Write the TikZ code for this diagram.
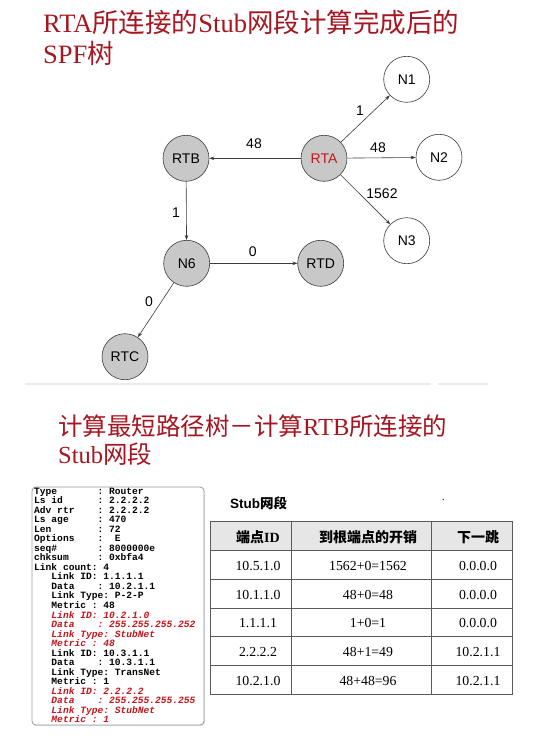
\documentclass[tikz,border=0pt]{standalone}
\usepackage{fontspec}
\setmainfont{Liberation Serif}
\setsansfont{Liberation Sans}
\setmonofont{Liberation Mono}
\newfontfamily\cjk{Noto Sans CJK SC}
\usetikzlibrary{arrows.meta,shadows}
\definecolor{titred}{RGB}{165,22,32}
\definecolor{codered}{RGB}{196,22,28}
\definecolor{nodegray}{RGB}{200,200,200}
\definecolor{edgegray}{RGB}{60,60,60}
\definecolor{hdrgray}{RGB}{230,230,230}
\definecolor{gridgray}{RGB}{90,90,90}
\newcommand\codeline[3]{\node[codetext,#2] (c#1) at (34,{494+(#1-1)*9.54}) {#3};}
\begin{document}
\begin{tikzpicture}[x=1pt,y=-1pt,
  net/.style={circle, draw=edgegray, line width=0.6pt, minimum size=46pt, inner sep=0pt,
    font=\sffamily\fontsize{14}{14}\selectfont},
  gnode/.style={net, fill=nodegray},
  wnode/.style={net, fill=white},
  arr/.style={-{Stealth[length=5pt,width=3.6pt]}, draw=edgegray, line width=0.6pt},
  lbl/.style={font=\sffamily\fontsize{14}{14}\selectfont, inner sep=0pt},
  titleA/.style={anchor=base west, inner sep=0pt, text=titred, font=\fontsize{26.5}{26.5}\selectfont},
  titleB/.style={anchor=base west, inner sep=0pt, text=titred, font=\fontsize{24.5}{24.5}\selectfont},
  codetext/.style={anchor=base west, inner sep=0pt, font=\ttfamily\bfseries\fontsize{9.6}{9.6}\selectfont},
  redcode/.style={text=codered, font=\ttfamily\bfseries\itshape\fontsize{9.6}{9.6}\selectfont},
  hdr/.style={inner sep=0pt, font=\cjk\bfseries\fontsize{14}{14}\selectfont},
  cell/.style={inner sep=0pt, font=\fontsize{13.8}{13.8}\selectfont}
]
\useasboundingbox (0,0) rectangle (556,742);

% ---------- titles ----------
\node[titleA] (t1a) at (43,32) {RTA{\cjk 所连接的}Stub{\cjk 网段计算完成后的}};
\node[titleA] (t1b) at (43,63) {SPF{\cjk 树}};
\node[titleB] (t2a) at (58,435) {{\cjk 计算最短路径树－计算}RTB{\cjk 所连接的}};
\node[titleB] (t2b) at (58,463) {Stub{\cjk 网段}};

% ---------- SPF tree ----------
\node[wnode] (N1) at (406.7,79.3) {N1};
\node[gnode] (RTB) at (186,158.3) {RTB};
\node[gnode, text=codered] (RTA) at (324,158.3) {RTA};
\node[wnode] (N2) at (439,157.3) {N2};
\node[wnode] (N3) at (406.7,240.7) {N3};
\node[gnode] (N6) at (186.7,263.3) {N6};
\node[gnode] (RTD) at (320.7,263.3) {RTD};
\node[gnode] (RTC) at (125,356.7) {RTC};

\draw[arr] (RTA) -- (RTB);
\draw[arr] (RTA) -- (N1);
\draw[arr] (RTA) -- (N2);
\draw[arr] (RTA) -- (N3);
\draw[arr] (RTB) -- (N6);
\draw[arr] (N6) -- (RTD);
\draw[arr] (N6) -- (RTC);

\node[lbl] (l1) at (254,144) {48};
\node[lbl] (l2) at (360,111) {1};
\node[lbl] (l3) at (378,148) {48};
\node[lbl] (l4) at (382,194) {1562};
\node[lbl] (l5) at (176,213) {1};
\node[lbl] (l6) at (252.7,252) {0};
\node[lbl] (l7) at (149,301.7) {0};

% faint separator
\draw[black!8, line width=1.5pt] (25,384) -- (431,384);
\draw[black!8, line width=1.5pt] (438,384) -- (488,384);

% ---------- LSA code box ----------
\draw[draw=black!40, fill=white, rounded corners=4pt, line width=0.8pt,
  drop shadow={opacity=0.25, shadow xshift=1pt, shadow yshift=-1.2pt}] (32,487) rectangle (204,725);
\codeline{1}{}{Type~~~~~~~:~Router}
\codeline{2}{}{Ls~id~~~~~~:~2.2.2.2}
\codeline{3}{}{Adv~rtr~~~~:~2.2.2.2}
\codeline{4}{}{Ls~age~~~~~:~470}
\codeline{5}{}{Len~~~~~~~~:~72}
\codeline{6}{}{Options~~~~:~~E}
\codeline{7}{}{seq\#~~~~~~~:~8000000e}
\codeline{8}{}{chksum~~~~~:~0xbfa4}
\codeline{9}{}{Link~count:~4}
\codeline{10}{}{~~~Link~ID:~1.1.1.1}
\codeline{11}{}{~~~Data~~~~:~10.2.1.1}
\codeline{12}{}{~~~Link~Type:~P-2-P}
\codeline{13}{}{~~~Metric~:~48}
\codeline{14}{redcode}{~~~Link~ID:~10.2.1.0}
\codeline{15}{redcode}{~~~Data~~~~:~255.255.255.252}
\codeline{16}{redcode}{~~~Link~Type:~StubNet}
\codeline{17}{redcode}{~~~Metric~:~48}
\codeline{18}{}{~~~Link~ID:~10.3.1.1}
\codeline{19}{}{~~~Data~~~~:~10.3.1.1}
\codeline{20}{}{~~~Link~Type:~TransNet}
\codeline{21}{}{~~~Metric~:~1}
\codeline{22}{redcode}{~~~Link~ID:~2.2.2.2}
\codeline{23}{redcode}{~~~Data~~~~:~255.255.255.255}
\codeline{24}{redcode}{~~~Link~Type:~StubNet}
\codeline{25}{redcode}{~~~Metric~:~1}

% ---------- Stub table ----------
\node[anchor=west, inner sep=0pt, font=\sffamily\bfseries\fontsize{13.5}{13.5}\selectfont] (stubhdr) at (230,503) {Stub{\cjk\bfseries 网段}};
\fill[codered] (443.3,499.5) circle (0.8);
\fill[codered] (356.7,583.3) circle (0.7);

\fill[white, drop shadow={opacity=0.3, shadow xshift=1pt, shadow yshift=-1.2pt}] (210,521.7) rectangle (512.3,694);
\fill[hdrgray] (210,521.7) rectangle (512.3,550.7);
\begin{scope}[draw=gridgray, line width=0.9pt]
\draw (210,521.7) rectangle (512.3,694);
\foreach \yy in {550.7,579.3,608.3,636.7,665.7} \draw (210,\yy) -- (512.3,\yy);
\draw (291.7,521.7) -- (291.7,694);
\draw (431,521.7) -- (431,694);
\end{scope}

\node[hdr] (h1) at (258,537) {端点{\rmfamily\bfseries ID}};
\node[hdr] (h2) at (368,537) {到根端点的开销};
\node[hdr] (h3) at (478,537) {下一跳};

\node[cell] (r1a) at (258,566) {10.5.1.0};
\node[cell] (r1b) at (368,566) {1562+0=1562};
\node[cell] (r1c) at (478,566) {0.0.0.0};
\node[cell] (r2a) at (258,595) {10.1.1.0};
\node[cell] (r2b) at (368,595) {48+0=48};
\node[cell] (r2c) at (478,595) {0.0.0.0};
\node[cell] (r3a) at (258,623) {1.1.1.1};
\node[cell] (r3b) at (368,623) {1+0=1};
\node[cell] (r3c) at (478,623) {0.0.0.0};
\node[cell] (r4a) at (258,652) {2.2.2.2};
\node[cell] (r4b) at (368,652) {48+1=49};
\node[cell] (r4c) at (478,652) {10.2.1.1};
\node[cell] (r5a) at (258,681) {10.2.1.0};
\node[cell] (r5b) at (368,681) {48+48=96};
\node[cell] (r5c) at (478,681) {10.2.1.1};
\end{tikzpicture}
\end{document}
